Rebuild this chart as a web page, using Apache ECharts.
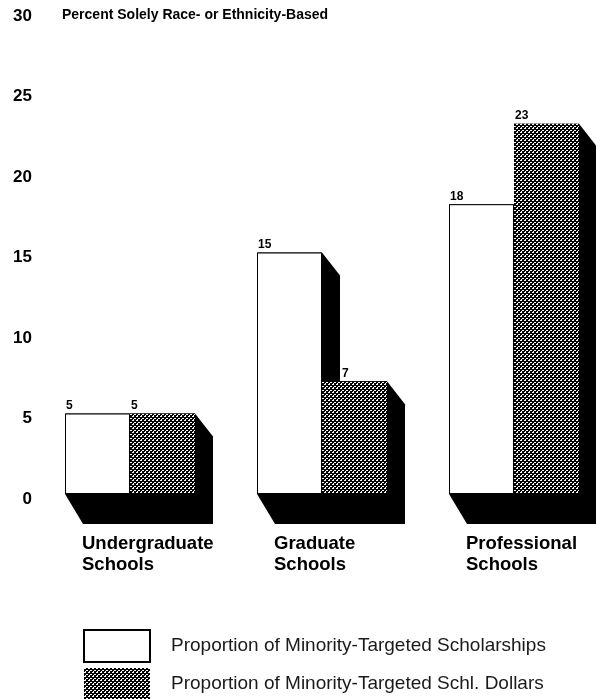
<!DOCTYPE html>
<html>
<head>
<meta charset="utf-8">
<script src="https://cdn.jsdelivr.net/npm/echarts@6/dist/echarts.min.js"></script>
<style>
html,body{margin:0;padding:0;background:#fff;}
#chart{width:596px;height:699px;}
</style>
</head>
<body>
<div id="chart"></div>
<script>
// ---- data ----
const categories = ['Undergraduate\nSchools', 'Graduate\nSchools', 'Professional\nSchools'];
const scholarships = [5, 15, 18];
const dollars = [5, 7, 23];
const seriesNames = ['Proportion of Minority-Targeted Scholarships', 'Proportion of Minority-Targeted Schl. Dollars'];
const yTitle = 'Percent Solely Race- or Ethnicity-Based';

// ---- styles ----
const BAR_W = 65;
const SH_DX = 18, SH_DY_TOP = 23, SH_DY_BOT = 30;
const FONT = '"Liberation Sans", Arial, Helvetica, sans-serif';

// dither pattern
const pc = document.createElement('canvas');
pc.width = 4; pc.height = 4;
const pctx = pc.getContext('2d');
pctx.fillStyle = '#000'; pctx.fillRect(0, 0, 4, 4);
pctx.fillStyle = '#fff';
[[0,0],[1,0],[2,2],[3,2],[1,3]].forEach(p => pctx.fillRect(p[0], p[1], 1, 1));
const dither = { image: pc, repeat: 'repeat' };

const chart = echarts.init(document.getElementById('chart'), null, { renderer: 'canvas' });

function shadowPoly(x0, x1, yt, yb) {
  return [[x0, yt], [x1, yt], [x1 + SH_DX, yt + SH_DY_TOP], [x1 + SH_DX, yb + SH_DY_BOT], [x0 + SH_DX, yb + SH_DY_BOT], [x0, yb]];
}

const dollarsData = dollars.map((v, i) => ({
  value: v,
  label: { position: scholarships[i] > v ? [SH_DX + 2, -2] : [1, -2] }
}));

chart.setOption({
  animation: false,
  backgroundColor: '#fff',
  title: {
    text: yTitle, left: 62, top: 8, padding: 0,
    textStyle: { fontFamily: FONT, fontSize: 14, fontWeight: 'bold', color: '#000' }
  },
  legend: {
    orient: 'vertical', left: 83, top: 629, height: 75,
    itemWidth: 66, itemHeight: 32, itemGap: 5, padding: 0,
    icon: 'rect',
    data: [
      { name: seriesNames[0], itemStyle: { borderWidth: 2, borderColor: '#000' } },
      { name: seriesNames[1] }
    ],
    textStyle: { fontFamily: FONT, fontSize: 19, color: '#1a1a1a', padding: [3, 0, 0, 16] },
    selectedMode: false
  },
  grid: { left: 34, width: 576, top: 11, height: 483, containLabel: false, outerBoundsMode: 'none' },
  xAxis: {
    type: 'category', data: categories,
    axisLine: { show: false }, axisTick: { show: false }, axisLabel: { show: false }, splitLine: { show: false }
  },
  yAxis: {
    type: 'value', min: 0, max: 30, interval: 5,
    axisLine: { show: false }, axisTick: { show: false }, splitLine: { show: false },
    axisLabel: {
      fontFamily: FONT, fontSize: 17, fontWeight: 'bold', color: '#000',
      align: 'right', margin: 2, verticalAlign: 'top', lineHeight: 10
    }
  },
  series: [
    {
      type: 'custom', name: 'shadow', z: 1, silent: true,
      data: categories.map((c, i) => [i, scholarships[i], dollars[i]]),
      renderItem: function (params, api) {
        const idx = api.value(0);
        const base = api.coord([idx, 0]);
        const c = base[0], yb = base[1];
        const ya = api.coord([idx, api.value(1)])[1];
        const yd = api.coord([idx, api.value(2)])[1];
        return {
          type: 'group',
          children: [
            { type: 'polygon', shape: { points: shadowPoly(c - BAR_W, c, ya, yb) }, style: { fill: '#000' } },
            { type: 'polygon', shape: { points: shadowPoly(c, c + BAR_W, yd, yb) }, style: { fill: '#000' } },
            {
              type: 'text', x: c - 48, y: yb + 39,
              style: {
                text: categories[idx], fontFamily: FONT, fontSize: 18.5, fontWeight: 'bold',
                fill: '#000', lineHeight: 21, align: 'left', verticalAlign: 'top'
              }
            }
          ]
        };
      }
    },
    {
      type: 'bar', name: seriesNames[0], data: scholarships, z: 3,
      barWidth: BAR_W, barGap: '0%',
      itemStyle: { color: '#fff', borderColor: '#000', borderWidth: 1 },
      label: {
        show: true, position: [1, -2], align: 'left', verticalAlign: 'bottom',
        fontFamily: FONT, fontSize: 12, fontWeight: 'bold', color: '#000'
      }
    },
    {
      type: 'bar', name: seriesNames[1], data: dollarsData, z: 3,
      barWidth: BAR_W, barGap: '0%',
      itemStyle: { color: dither, borderColor: '#000', borderWidth: 0 },
      label: {
        show: true, position: [1, -2], align: 'left', verticalAlign: 'bottom',
        fontFamily: FONT, fontSize: 12, fontWeight: 'bold', color: '#000'
      }
    }
  ]
});
</script>
</body>
</html>
